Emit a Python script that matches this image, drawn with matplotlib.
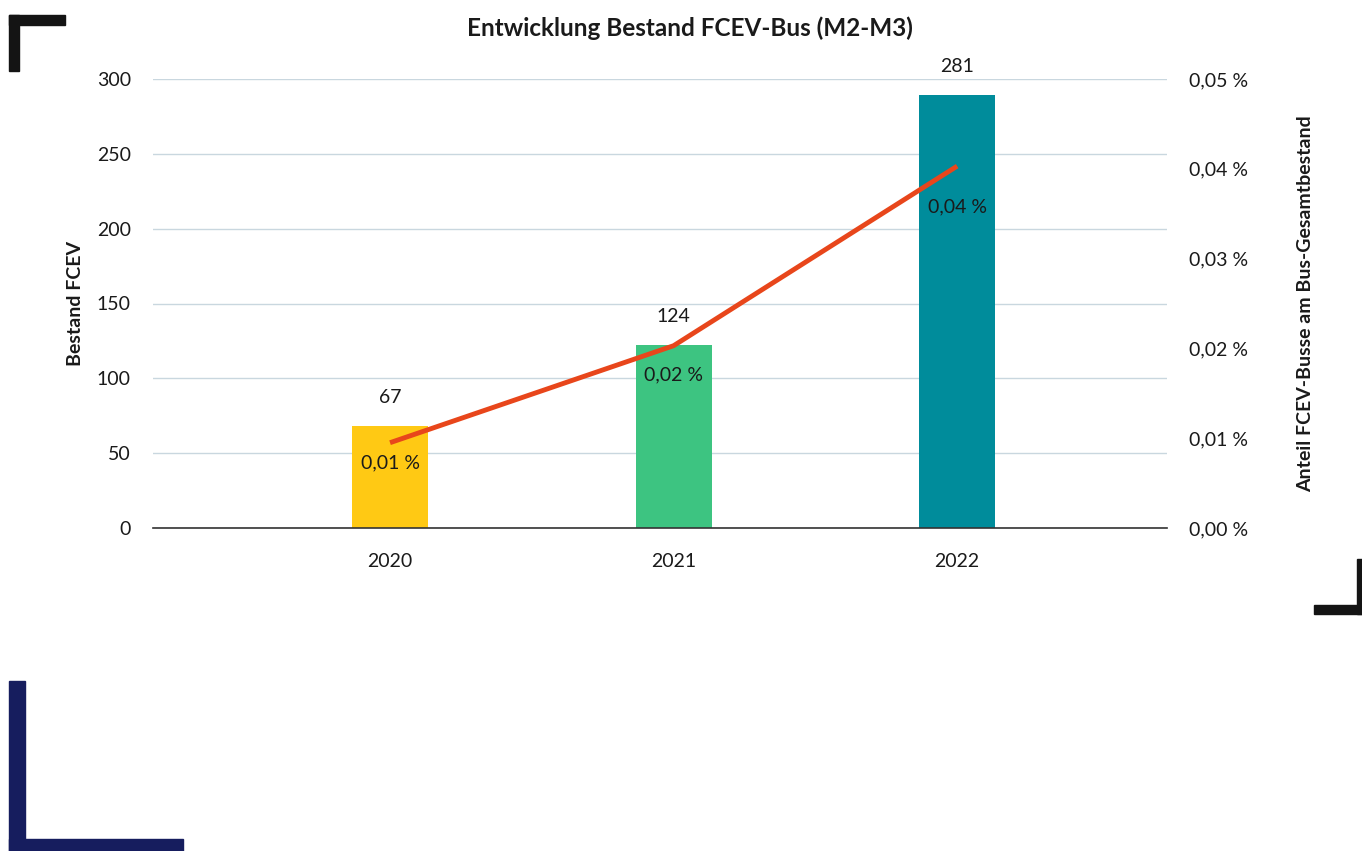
import matplotlib
matplotlib.use("Agg")
import matplotlib.pyplot as plt
from matplotlib.patches import Rectangle

plt.rcParams['font.family'] = ['Lato', 'DejaVu Sans']

# data
years = ["2020", "2021", "2022"]
bestand = [68, 122, 289]            # bar heights as drawn
bestand_labels = ["67", "124", "281"]  # labels as printed
anteil = [0.0095, 0.0203, 0.0403]   # share in percent
anteil_labels = ["0,01 %", "0,02 %", "0,04 %"]
left_ticks = [0, 50, 100, 150, 200, 250, 300]
right_ticks = [0.0, 0.01, 0.02, 0.03, 0.04, 0.05]
right_ticklabels = ["0,00 %", "0,01 %", "0,02 %", "0,03 %", "0,04 %", "0,05 %"]

bar_colors = ["#FFC914", "#3DC481", "#008C9B"]
line_color = "#E8461B"
grid_color = "#C9D7DF"
text_color = "#1a1a1a"
fs = 14

W, H = 1362, 851
fig = plt.figure(figsize=(W / 100, H / 100), dpi=100)
ax = fig.add_axes([153 / W, 1 - 528 / H, (1167 - 153) / W, (528 - 79) / H])

x = list(range(len(years)))
ax.bar(x, bestand, width=0.268, color=bar_colors, zorder=2)
for xi, v, lab in zip(x, bestand, bestand_labels):
    ax.annotate(lab, (xi, v), xytext=(0, 20), textcoords="offset pixels",
                ha="center", va="bottom", fontsize=fs, color=text_color)

ax.set_xlim(-0.836, 2.74)
ax.set_ylim(0, 300)
ax.set_yticks(left_ticks)
ax.set_xticks(x)
ax.set_xticklabels(years)
ax.grid(axis="y", color=grid_color, linewidth=1, zorder=0)
ax.axhline(0, color="#333333", linewidth=1.2, zorder=3, clip_on=False)
for s in ax.spines.values():
    s.set_visible(False)
ax.tick_params(axis="both", length=0, labelsize=fs, colors=text_color)
ax.tick_params(axis="y", pad=16)
ax.tick_params(axis="x", pad=18)
ax.set_ylabel("Bestand FCEV", fontsize=fs, fontweight="bold", color=text_color, labelpad=9)

ax2 = ax.twinx()
ax2.plot(x, anteil, color=line_color, linewidth=3.5, solid_capstyle="butt", zorder=4)
offsets = [20, 29, 41]
for xi, v, lab, off in zip(x, anteil, anteil_labels, offsets):
    ax2.annotate(lab, (xi, v), xytext=(0, -off), textcoords="offset pixels",
                 ha="center", va="center", fontsize=fs, color=text_color)
ax2.set_ylim(0, 0.05)
ax2.set_yticks(right_ticks)
ax2.set_yticklabels(right_ticklabels)
for s in ax2.spines.values():
    s.set_visible(False)
ax2.tick_params(axis="y", length=0, labelsize=fs, colors=text_color, pad=16)
ax2.set_ylabel("Anteil FCEV-Busse am Bus-Gesamtbestand", fontsize=fs,
               fontweight="bold", color=text_color, labelpad=35)

fig.text(690 / W, 1 - 28 / H, "Entwicklung Bestand FCEV-Bus (M2-M3)",
         ha="center", va="center", fontsize=17.5, fontweight="bold", color=text_color)

# decorative corner marks
def box(x0, y0, x1, y1, color):
    fig.patches.append(Rectangle((x0 / W, 1 - y1 / H), (x1 - x0) / W, (y1 - y0) / H,
                                 transform=fig.transFigure, color=color, zorder=5))

box(9, 15, 65, 25, "#141414")
box(9, 15, 19, 71, "#141414")
box(1357, 559, 1362, 614, "#141414")
box(1314, 605, 1362, 614, "#141414")
box(9, 681, 25, 851, "#161D5E")
box(9, 839, 183, 851, "#161D5E")

fig.savefig("out.png", dpi=100)
